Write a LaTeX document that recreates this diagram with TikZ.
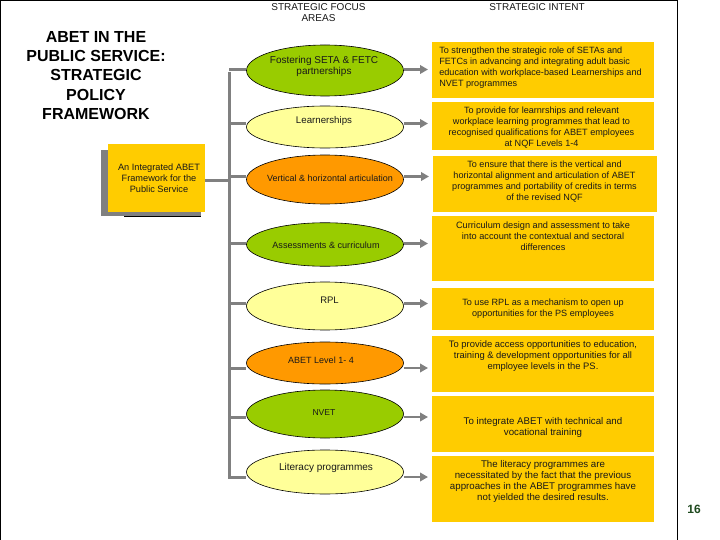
\documentclass[tikz,border=0pt]{standalone}
\usepackage{fontspec}
\setmainfont{Liberation Sans}
\usetikzlibrary{shapes.geometric,arrows.meta}
\definecolor{cgreen}{HTML}{99CC00}
\definecolor{cyellow}{HTML}{FFFF99}
\definecolor{corange}{HTML}{FF9900}
\definecolor{cbox}{HTML}{FFCC00}
\definecolor{cgray}{HTML}{808080}
\definecolor{cnum}{HTML}{1F4A1F}
\tikzset{
  oval/.style={ellipse,draw=black,line width=0.6pt,minimum width=157pt,inner sep=0pt},
  intent/.style={fill=cbox,inner sep=0pt,anchor=north west},
  small/.style={font=\fontsize{#1}{11}\selectfont,align=center,inner sep=0pt,text=black!90},
  small/.default=9.1,
  bus/.style={draw=cgray,line width=3pt},
  flow/.style={draw=cgray,line width=2.4pt,-{Triangle[length=8pt,width=8.5pt]}},
}
\begin{document}
\begin{tikzpicture}[x=1pt,y=-1pt]
\useasboundingbox (0,0) rectangle (720,540);
\fill[white] (0,0) rectangle (720,540);
\draw[black,line width=1pt] (0.5,540) -- (0.5,0.5) -- (677,0.5) -- (677,540);
% headers and title
\node[small=10] (h1) at (318.5,12.5) {STRATEGIC FOCUS\\AREAS};
\node[small=10] (h2) at (537,7) {STRATEGIC INTENT};
\node[font=\bfseries\fontsize{16}{19.2}\selectfont,align=center,inner sep=0pt,text=black] (title) at (96,75.5)
  {ABET IN THE\\PUBLIC SERVICE:\\STRATEGIC\\POLICY\\FRAMEWORK};
% left box
\fill[cgray] (101,150) rectangle (201,216);
\draw[black,line width=0.8pt] (124,216.5) -- (201,216.5);
\node[fill=cbox,minimum width=97pt,minimum height=68pt,inner sep=0pt] (main) at (156.5,178) {};
\node[small=9.2] (maint) at (159,178.5) {An Integrated ABET\\Framework for the\\Public Service};
% ellipses
\node[oval,fill=cgreen,minimum height=51pt] (e1) at (325,70.5) {};
\node[oval,fill=cyellow,minimum height=42pt] (e2) at (325,127) {};
\node[oval,fill=corange,minimum height=49pt] (e3) at (325,179.5) {};
\node[oval,fill=cgreen,minimum height=43.5pt] (e4) at (325,244.5) {};
\node[oval,fill=cyellow,minimum height=48pt] (e5) at (325,306) {};
\node[oval,fill=corange,minimum height=42pt] (e6) at (325,363) {};
\node[oval,fill=cgreen,minimum height=48pt] (e7) at (325,414) {};
\node[oval,fill=cyellow,minimum height=44pt] (e8) at (325,472) {};
\node[small=10] (t1) at (324,66.5) {Fostering SETA \& FETC\\partnerships};
\node[small=9.7] (t2) at (324,120.5) {Learnerships};
\node[small=9] (t3) at (330,178.5) {Vertical \& horizontal articulation};
\node[small=9.1] (t4) at (326,245) {Assessments \&  curriculum};
\node[small=9.5] (t5) at (329.5,300.5) {RPL};
\node[small=9] (t6) at (321,360) {ABET Level 1- 4};
\node[small=8.6] (t7) at (324,413) {NVET};
\node[small=10] (t8) at (326,468) {Literacy  programmes};
% intent boxes
\node[intent,minimum width=222pt,minimum height=55.7pt] (b1) at (432,42) {};
\node[intent,minimum width=222pt,minimum height=48pt] (b2) at (432,102) {};
\node[intent,minimum width=224pt,minimum height=55.7pt] (b3) at (433,156) {};
\node[intent,minimum width=222pt,minimum height=65pt] (b4) at (432,216) {};
\node[intent,minimum width=222pt,minimum height=42.3pt] (b5) at (432,287.7) {};
\node[intent,minimum width=222pt,minimum height=55.7pt] (b6) at (432,336) {};
\node[intent,minimum width=222pt,minimum height=55.7pt] (b7) at (432,396) {};
\node[intent,minimum width=222pt,minimum height=65.7pt] (b8) at (432,456) {};
\node[small=9.1,align=left] (s1) at (540.5,67.5) {To strengthen the strategic role of SETAs and\\FETCs in advancing and integrating adult basic\\education with workplace-based Learnerships and\\NVET programmes};
\node[small=9.1] (s2) at (541.5,127.5) {To provide for learnrships and relevant\\workplace learning programmes that lead to\\recognised qualifications for ABET employees\\at NQF Levels 1-4};
\node[small=9.1] (s3) at (544.5,182) {To ensure that there is the vertical and\\horizontal alignment and articulation of ABET\\programmes  and portability of credits in terms\\of the revised  NQF};
\node[small=9.2] (s4) at (543,236) {Curriculum design and assessment  to take\\into account the contextual and sectoral\\differences};
\node[small=9.1] (s5) at (543,308.5) {To use RPL as a mechanism to open up\\opportunities for the PS employees};
\node[small=9.4] (s6) at (543,356) {To provide access opportunities to education,\\training \& development opportunities for all\\employee levels in the PS.};
\node[small=9.7] (s7) at (543,427) {To integrate ABET with technical and\\vocational training};
\node[small=9.7] (s8) at (543,481) {The literacy programmes  are\\necessitated by the fact that the previous\\approaches in the ABET programmes have\\not yielded the desired results.};
\node[font=\bfseries\fontsize{12}{14}\selectfont,text=cnum,inner sep=0pt] (num) at (694,509) {16};
% connectors
\coordinate (j1) at (229,69.5);
\coordinate (j2) at (229,123.5);
\coordinate (j3) at (229,176.5);
\coordinate (j4) at (229,243.5);
\coordinate (j5) at (229,303.5);
\coordinate (j6) at (229,368);
\coordinate (j7) at (229,417);
\coordinate (j8) at (229,477);
\coordinate (jm) at (229,181);
\coordinate (top) at (229,72);
\coordinate (bot) at (229,479);
\path[bus] (top) -- (bot);
\path[bus] (main.east |- jm) -- (jm);
\foreach \i in {1,...,8} {
  \path[bus] (j\i) -- (j\i -| e\i.west);
  \path[flow] (j\i -| e\i.east) -- ([xshift=-4pt]j\i -| b\i.west);
}
\end{tikzpicture}
\end{document}
